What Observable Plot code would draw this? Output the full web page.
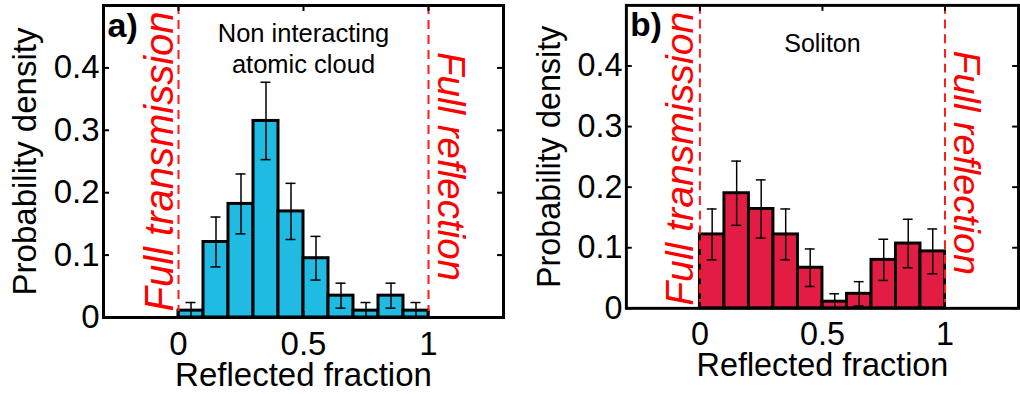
<!DOCTYPE html>
<html>
<head>
<meta charset="utf-8">
<script src="https://cdn.jsdelivr.net/npm/d3@7"></script>
<script src="https://cdn.jsdelivr.net/npm/@observablehq/plot@0.6"></script>
<style>
  html, body { margin: 0; padding: 0; background: #fff; overflow: hidden; }
  #wrap { position: relative; width: 1020px; height: 394px; overflow: hidden; }
  .panel { position: absolute; top: 0; }
</style>
</head>
<body>
<div id="wrap">
  <div class="panel" id="pa" style="left:0px"></div>
  <div class="panel" id="pb" style="left:520px"></div>
</div>
<script>
// ---- data ----
const binStarts = [0, 0.1, 0.2, 0.3, 0.4, 0.5, 0.6, 0.7, 0.8, 0.9];
const binWidth = 0.1;
const densityA = [0.011, 0.121, 0.182, 0.315, 0.170, 0.095, 0.035, 0.011, 0.035, 0.011];
const errorA   = [0.013, 0.040, 0.048, 0.062, 0.045, 0.035, 0.020, 0.013, 0.020, 0.013];
const densityB = [0.122, 0.190, 0.164, 0.122, 0.067, 0.011, 0.024, 0.080, 0.107, 0.094];
const errorB   = [0.042, 0.053, 0.048, 0.042, 0.031, 0.013, 0.020, 0.034, 0.040, 0.037];
const xTicks = [0, 0.5, 1];
const yTicks = [0, 0.1, 0.2, 0.3, 0.4];
const limitLines = [0, 1];
const limitLabels = ["Full transmission", "Full reflection"];
const panelTags = ["a)", "b)"];
const panelTitles = ["Non interacting\natomic cloud", "Soliton"];
const xLabel = "Reflected fraction";
const yLabel = "Probability density";
const xDomain = [-0.3, 1.3];
const yDomain = [0, 0.5];

const FONT = "'Liberation Sans', Arial, Helvetica, sans-serif";

function panel({values, errors, fill, tag, title, marginLeft, marginRight, marginBottom,
                titleDy, trDx, trDy, rfDx, rfDy, tagDx, xlabDy}) {
  const W = 510, H = 394, marginTop = 5;
  const plotW = W - marginLeft - marginRight;
  const plotH = H - marginTop - marginBottom;
  const bins = binStarts.map((s, i) => ({
    x1: s, x2: s + binWidth, c: s + binWidth / 2,
    v: values[i], lo: Math.max(0, values[i] - errors[i]), hi: values[i] + errors[i]
  }));
  const cap = 0.02;
  return Plot.plot({
    width: W, height: H,
    marginLeft, marginRight, marginTop, marginBottom,
    style: {fontFamily: FONT, fontSize: "33px", background: "white", color: "black"},
    x: {domain: xDomain},
    y: {domain: yDomain},
    marks: [
      Plot.rectY(bins, {x1: "x1", x2: "x2", y: "v", fill, stroke: "black", strokeWidth: 3, inset: 0}),
      Plot.ruleX(bins, {x: "c", y1: "lo", y2: "hi", stroke: "black", strokeWidth: 1.5}),
      Plot.ruleY(bins, {y: "hi", x1: d => d.c - cap, x2: d => d.c + cap, stroke: "black", strokeWidth: 1.5}),
      Plot.ruleY(bins, {y: "lo", x1: d => d.c - cap, x2: d => d.c + cap, stroke: "black", strokeWidth: 1.5}),
      Plot.ruleX(limitLines, {x: d => d, stroke: "#ff1a1a", strokeWidth: 2, strokeDasharray: "9,6"}),
      // inward tick marks on all four sides
      Plot.tickY(yTicks, {y: d => d, insetRight: plotW - 6, stroke: "black", strokeWidth: 2}),
      Plot.tickY(yTicks, {y: d => d, insetLeft: plotW - 6, stroke: "black", strokeWidth: 2}),
      Plot.tickX(xTicks, {x: d => d, insetTop: plotH - 6, stroke: "black", strokeWidth: 2}),
      Plot.tickX(xTicks, {x: d => d, insetBottom: plotH - 6, stroke: "black", strokeWidth: 2}),
      Plot.frame({stroke: "black", strokeWidth: 3}),
      Plot.axisX(xTicks, {tickSize: 0, tickPadding: 14, fontSize: 33, label: null, tickFormat: d => String(d)}),
      Plot.axisY(yTicks, {tickSize: 0, tickPadding: 4, fontSize: 33, label: null, tickFormat: d => String(d)}),
      Plot.text([xLabel], {frameAnchor: "bottom", textAnchor: "middle", lineAnchor: "top", dy: xlabDy, fontSize: 33}),
      Plot.text([yLabel], {frameAnchor: "left", textAnchor: "middle", rotate: -90, dx: -78, fontSize: 33}),
      Plot.text([limitLabels[0]], {x: limitLines[0], rotate: -90, textAnchor: "middle", lineAnchor: "bottom", dx: trDx, dy: trDy,
        fill: "#ff0000", fontSize: 40, fontStyle: "italic"}),
      Plot.text([limitLabels[1]], {x: limitLines[1], rotate: 90, textAnchor: "middle", lineAnchor: "bottom", dx: rfDx, dy: rfDy,
        fill: "#ff0000", fontSize: 38.5, fontStyle: "italic"}),
      Plot.text([tag], {frameAnchor: "top-left", textAnchor: "start", lineAnchor: "bottom",
        dx: tagDx, dy: 31, fontSize: 34, fontWeight: "bold"}),
      Plot.text([title], {frameAnchor: "top", textAnchor: "middle", lineAnchor: "top", dy: titleDy, fontSize: 25.5, lineHeight: 1.2})
    ]
  });
}

document.getElementById("pa").append(panel({
  values: densityA, errors: errorA, fill: "#1fbbe3", tag: panelTags[0], title: panelTitles[0],
  marginLeft: 103, marginRight: 7, marginBottom: 77, titleDy: 15, xlabDy: 45,
  trDx: -6, trDy: 0, rfDx: 9, rfDy: 5, tagDx: 4
}));
document.getElementById("pb").append(panel({
  values: densityB, errors: errorB, fill: "#e31c43", tag: panelTags[1], title: panelTitles[1],
  marginLeft: 108, marginRight: 2, marginBottom: 80, titleDy: 26, xlabDy: 46,
  trDx: -7, trDy: 2, rfDx: 9, rfDy: 6, tagDx: 4
}));
</script>
</body>
</html>
